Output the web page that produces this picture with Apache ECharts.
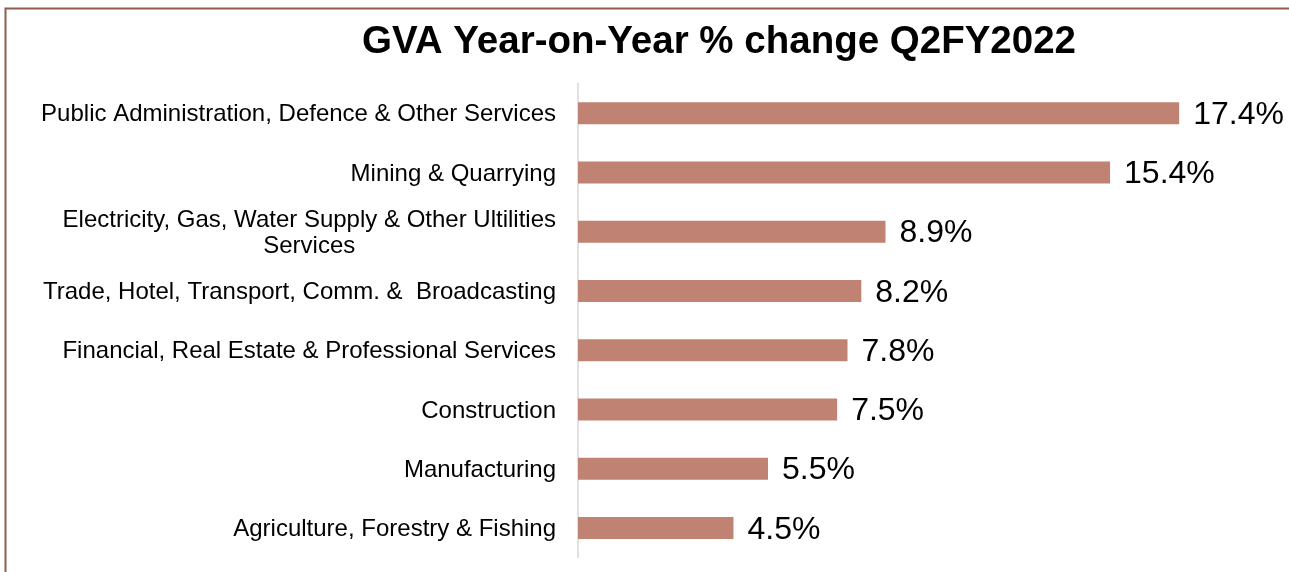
<!DOCTYPE html>
<html>
<head>
<meta charset="utf-8">
<script src="https://cdn.jsdelivr.net/npm/echarts@6/dist/echarts.min.js"></script>
<style>
  html, body { margin: 0; padding: 0; background: #ffffff; }
  #chart { width: 1289px; height: 572px; }
</style>
</head>
<body>
<div id="chart"></div>
<script>
// Sectors listed bottom-to-top (category axis starts at the bottom)
const sectors = [
  'Agriculture, Forestry & Fishing',
  'Manufacturing',
  'Construction',
  'Financial, Real Estate & Professional Services',
  'Trade, Hotel, Transport, Comm. &  Broadcasting',
  'Electricity, Gas, Water Supply & Other Ultilities\nServices',
  'Mining & Quarrying',
  'Public Administration, Defence & Other Services'
];
// Year-on-year GVA growth, %
const growth = [4.5, 5.5, 7.5, 7.8, 8.2, 8.9, 15.4, 17.4];

const FONT = 'Liberation Sans, Arial, sans-serif';
const chart = echarts.init(document.getElementById('chart'), null, { renderer: 'canvas' });

chart.setOption({
  animation: false,
  backgroundColor: '#ffffff',
  textStyle: { fontFamily: FONT },
  title: {
    text: 'GVA Year-on-Year % change Q2FY2022',
    left: 714,
    top: 18,
    textAlign: 'center',
    textStyle: { fontSize: 38.5, fontWeight: 'bold', color: '#000000', fontFamily: FONT }
  },
  graphic: [{
    type: 'rect',
    shape: { x: 5.5, y: 8.5, width: 1400, height: 700 },
    style: { fill: 'none', stroke: '#8e5c4e', lineWidth: 2 },
    silent: true,
    z: -1
  }],
  grid: { left: 578, right: 20, top: 83.5, bottom: 14.5, containLabel: false },
  xAxis: {
    type: 'value',
    min: 0,
    max: 20,
    show: false
  },
  yAxis: {
    type: 'category',
    data: sectors,
    axisLine: { show: true, lineStyle: { color: '#dcd6d6', width: 1.5 } },
    axisTick: { show: false },
    axisLabel: {
      margin: 22,
      fontSize: 24,
      color: '#000000',
      lineHeight: 26,
      padding: [3, 0, 0, 0],
      formatter: function (v) {
        return v.split('\n').map(function (s) { return '{c|' + s + '}'; }).join('\n');
      },
      rich: {
        c: { align: 'center', fontSize: 24, lineHeight: 26, color: '#000000', fontFamily: FONT }
      }
    }
  },
  series: [{
    type: 'bar',
    data: growth,
    barWidth: 22,
    itemStyle: { color: '#c08373' },
    label: {
      show: true,
      position: 'right',
      distance: 14,
      offset: [0, 2],
      fontSize: 32,
      color: '#000000',
      fontFamily: FONT,
      formatter: function (p) { return p.value.toFixed(1) + '%'; }
    }
  }]
});
</script>
</body>
</html>
